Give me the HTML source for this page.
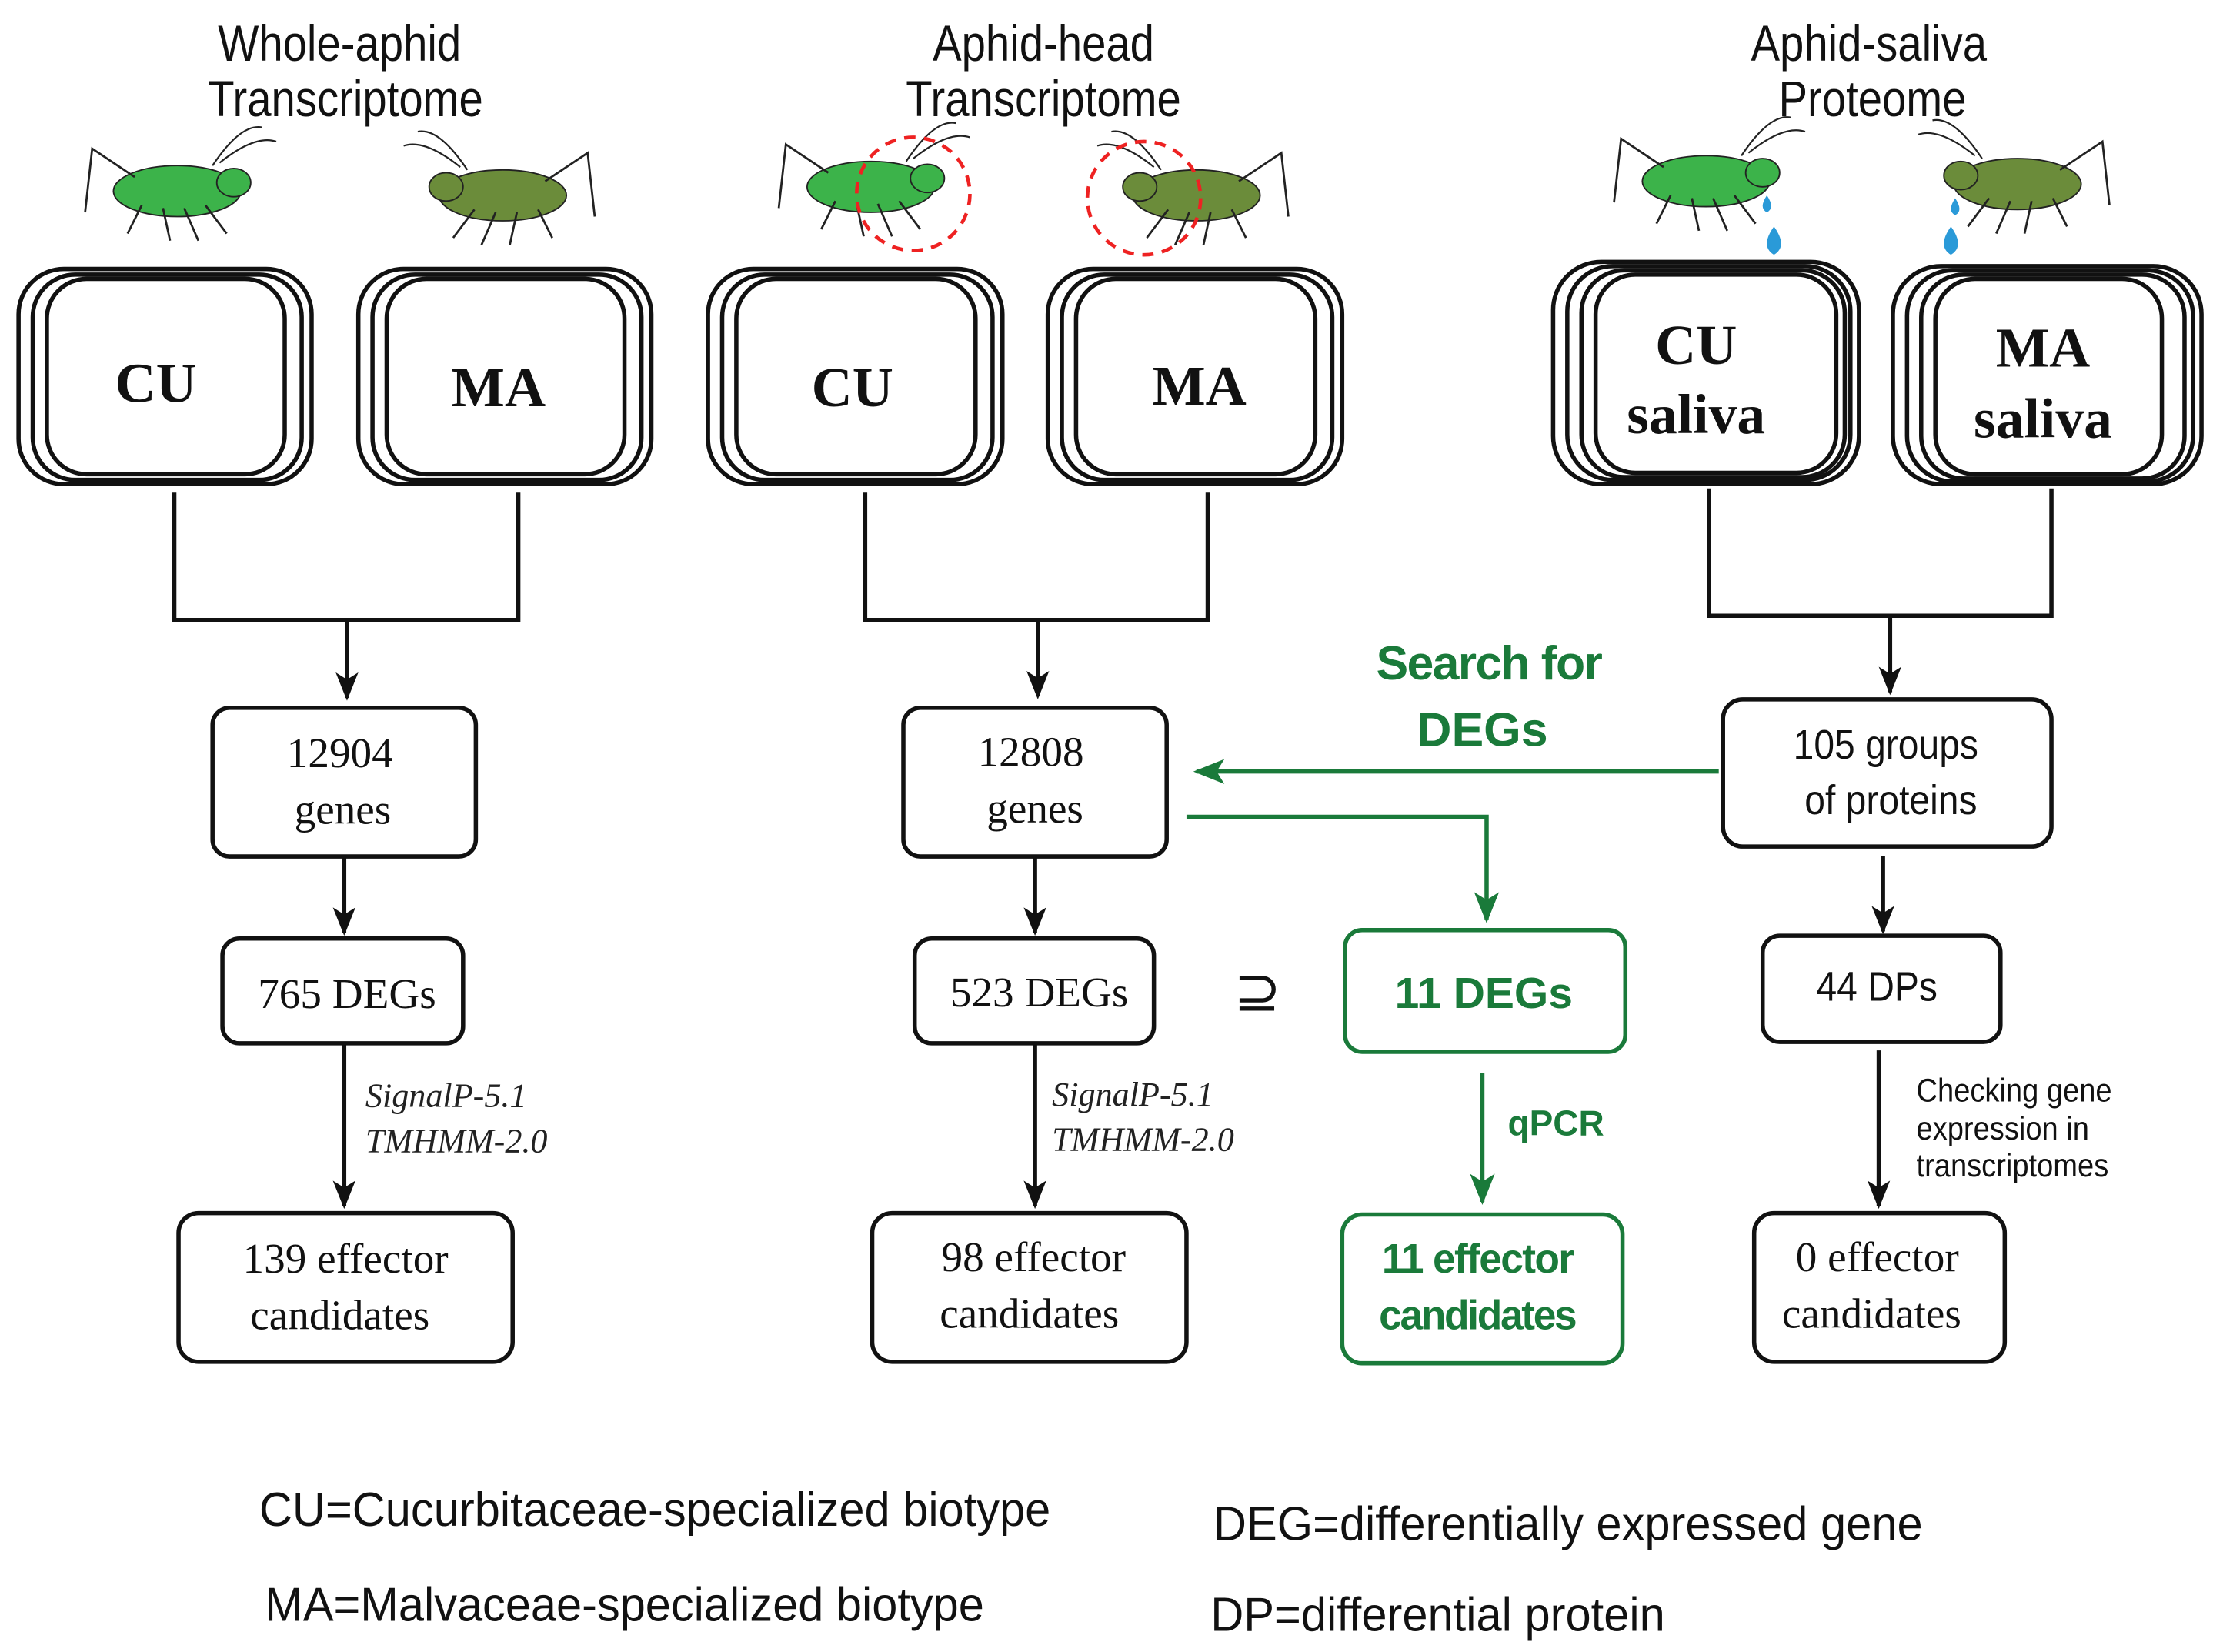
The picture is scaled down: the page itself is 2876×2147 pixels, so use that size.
<!DOCTYPE html>
<html><head><meta charset="utf-8"><style>html,body{margin:0;padding:0;background:#fff}svg{display:block}</style></head><body>
<svg width="2876" height="2147" viewBox="0 0 1563 1167" xmlns="http://www.w3.org/2000/svg">
<defs>
<marker id="ab" viewBox="0 0 20 20" refX="18" refY="10" markerWidth="20" markerHeight="20" markerUnits="userSpaceOnUse" orient="auto"><path d="M0,2 L20,10 L0,18 L5,10 Z" fill="#111"/></marker>
<marker id="ag" viewBox="0 0 20 20" refX="18" refY="10" markerWidth="22" markerHeight="22" markerUnits="userSpaceOnUse" orient="auto"><path d="M0,2 L20,10 L0,18 L5,10 Z" fill="#1a7a3a"/></marker>
<g id="aphid">
<path d="M-30,-20 Q-55,-40 -70,-35 M-25,-18 Q-45,-48 -60,-45" stroke="#222" stroke-width="1.2" fill="none"/>
<ellipse cx="0" cy="0" rx="45" ry="18"/>
<ellipse cx="-40" cy="-6" rx="12" ry="10"/>
<path d="M-20,10 L-35,30 M-5,12 L-15,35 M10,12 L5,35 M25,10 L35,30 M30,-10 L60,-30 L65,15" stroke="#222" stroke-width="1.5" fill="none"/>
</g>
</defs>
<g font-family="'Liberation Sans', sans-serif" fill="#111" text-anchor="middle">
<!-- titles -->
<g font-size="36" transform="scale(0.85,1)">
<text x="282" y="43">Whole-aphid</text><text x="287" y="82">Transcriptome</text>
<text x="867" y="43">Aphid-head</text><text x="867" y="82">Transcriptome</text>
<text x="1553" y="43">Aphid-saliva</text><text x="1556" y="82">Proteome</text>
</g>
</g>
<!-- aphids -->
<g stroke="#222" stroke-width="1">
<g transform="translate(125,135)" fill="#3cb34a"><use href="#aphid" transform="scale(-1,1)"/></g>
<g transform="translate(355,138)" fill="#6b8c3a"><use href="#aphid"/></g>
<g transform="translate(615,132)" fill="#3cb34a"><use href="#aphid" transform="scale(-1,1)"/></g>
<g transform="translate(845,138)" fill="#6b8c3a"><use href="#aphid"/></g>
<g transform="translate(1205,128)" fill="#3cb34a"><use href="#aphid" transform="scale(-1,1)"/></g>
<g transform="translate(1425,130)" fill="#6b8c3a"><use href="#aphid"/></g>
</g>
<circle cx="645" cy="137" r="40" fill="none" stroke="#e22" stroke-width="2.5" stroke-dasharray="8,6"/>
<circle cx="808" cy="140" r="40" fill="none" stroke="#e22" stroke-width="2.5" stroke-dasharray="8,6"/>
<g fill="#2a9ad8"><path d="M1248,138 q-6,9 0,12 q6,-3 0,-12z"/><path d="M1253,160 q-10,14 0,20 q10,-6 0,-20z"/><path d="M1381,140 q-6,9 0,12 q6,-3 0,-12z"/><path d="M1378,160 q-10,14 0,20 q10,-6 0,-20z"/></g>
<!-- stacked boxes -->
<g fill="#fff" stroke="#111" stroke-width="3">
<rect x="13" y="190" width="207" height="152" rx="32"/><rect x="23" y="194" width="190" height="145" rx="30"/><rect x="33" y="197" width="168" height="138" rx="28"/>
<rect x="253" y="190" width="207" height="152" rx="32"/><rect x="263" y="194" width="190" height="145" rx="30"/><rect x="273" y="197" width="168" height="138" rx="28"/>
<rect x="500" y="190" width="208" height="152" rx="32"/><rect x="510" y="194" width="191" height="145" rx="30"/><rect x="520" y="197" width="169" height="138" rx="28"/>
<rect x="740" y="190" width="208" height="152" rx="32"/><rect x="750" y="194" width="191" height="145" rx="30"/><rect x="760" y="197" width="169" height="138" rx="28"/>
<rect x="1097" y="185" width="216" height="157" rx="34"/><rect x="1107" y="188" width="200" height="151" rx="32"/><rect x="1117" y="191" width="186" height="146" rx="30"/><rect x="1127" y="194" width="170" height="140" rx="28"/>
<rect x="1337" y="188" width="218" height="154" rx="34"/><rect x="1347" y="191" width="202" height="149" rx="32"/><rect x="1357" y="194" width="186" height="144" rx="30"/><rect x="1367" y="197" width="160" height="138" rx="28"/>
</g>
<g font-family="'Liberation Serif', serif" font-weight="bold" font-size="40" text-anchor="middle" fill="#111">
<text x="110" y="284">CU</text><text x="352" y="287">MA</text><text x="602" y="287">CU</text><text x="847" y="286">MA</text>
<text x="1198" y="257">CU</text><text x="1198" y="306">saliva</text><text x="1443" y="259">MA</text><text x="1443" y="309">saliva</text>
</g>
<!-- connectors -->
<g stroke="#111" stroke-width="3" fill="none">
<path d="M123,348 V438 H366 V348"/><path d="M245,438 V493" marker-end="url(#ab)"/>
<path d="M611,348 V438 H853 V348"/><path d="M733,438 V492" marker-end="url(#ab)"/>
<path d="M1207,345 V435 H1449 V345"/><path d="M1335,435 V489" marker-end="url(#ab)"/>
<path d="M243,606 V659" marker-end="url(#ab)"/><path d="M243,738 V852" marker-end="url(#ab)"/>
<path d="M731,606 V659" marker-end="url(#ab)"/><path d="M731,738 V852" marker-end="url(#ab)"/>
<path d="M1330,605 V658" marker-end="url(#ab)"/><path d="M1327,742 V852" marker-end="url(#ab)"/>
</g>
<g stroke="#1a7a3a" stroke-width="3" fill="none">
<path d="M1214,545 H845" marker-end="url(#ag)"/>
<path d="M838,577 H1050 V650" marker-end="url(#ag)"/>
<path d="M1047,758 V849" marker-end="url(#ag)"/>
</g>
<!-- boxes -->
<g fill="#fff" stroke="#111" stroke-width="3">
<rect x="150" y="500" width="186" height="105" rx="12"/><rect x="157" y="663" width="170" height="74" rx="12"/><rect x="126" y="857" width="236" height="105" rx="14"/>
<rect x="638" y="500" width="186" height="105" rx="12"/><rect x="646" y="663" width="169" height="74" rx="12"/><rect x="616" y="857" width="222" height="105" rx="14"/>
<rect x="1217" y="494" width="232" height="104" rx="14"/><rect x="1245" y="661" width="168" height="75" rx="12"/><rect x="1239" y="857" width="177" height="105" rx="14"/>
</g>
<g fill="#fff" stroke="#1a7a3a" stroke-width="3">
<rect x="950" y="657" width="198" height="86" rx="12"/><rect x="948" y="858" width="198" height="105" rx="14"/>
</g>
<g font-family="'Liberation Serif', serif" font-size="30" text-anchor="middle" fill="#111">
<text x="240" y="542">12904</text><text x="242" y="582">genes</text><text x="245" y="712">765 DEGs</text>
<text x="244" y="899">139 effector</text><text x="240" y="939">candidates</text>
<text x="728" y="541">12808</text><text x="731" y="581">genes</text><text x="734" y="711">523 DEGs</text>
<text x="730" y="898">98 effector</text><text x="727" y="938">candidates</text>
<text x="1326" y="898">0 effector</text><text x="1322" y="938">candidates</text>
<text x="888" y="714" font-size="40">⊇</text>
</g>
<g font-family="'Liberation Serif', serif" font-style="italic" font-size="24" fill="#222">
<text x="258" y="782">SignalP-5.1</text><text x="258" y="814">TMHMM-2.0</text>
<text x="743" y="781">SignalP-5.1</text><text x="743" y="813">TMHMM-2.0</text>
</g>
<g font-family="'Liberation Sans', sans-serif" fill="#111">
<g transform="scale(0.9,1)" font-size="29" text-anchor="middle">
<text x="1480" y="536">105 groups</text><text x="1484" y="575">of proteins</text><text x="1473" y="707">44 DPs</text>
</g>
<g transform="scale(0.9,1)" font-size="23"><text x="1504" y="778">Checking gene</text><text x="1504" y="805">expression in</text><text x="1504" y="831">transcriptomes</text></g>
</g>
<g font-family="'Liberation Sans', sans-serif" font-weight="bold" fill="#1a7a3a" text-anchor="middle">
<text x="1052" y="480" font-size="34" textLength="160">Search for</text><text x="1047" y="527" font-size="34">DEGs</text>
<text x="1048" y="712" font-size="31">11 DEGs</text>
<text x="1044" y="899" font-size="29" textLength="136">11 effector</text><text x="1044" y="939" font-size="29" textLength="140">candidates</text>
<text x="1099" y="802" font-size="25">qPCR</text>
</g>
<g font-family="'Liberation Sans', sans-serif" font-size="34" fill="#111">
<text x="183" y="1078" textLength="559" lengthAdjust="spacingAndGlyphs">CU=Cucurbitaceae-specialized biotype</text>
<text x="187" y="1145" textLength="508" lengthAdjust="spacingAndGlyphs">MA=Malvaceae-specialized biotype</text>
<text x="857" y="1088" textLength="501" lengthAdjust="spacingAndGlyphs">DEG=differentially expressed gene</text>
<text x="855" y="1152" textLength="321" lengthAdjust="spacingAndGlyphs">DP=differential protein</text>
</g>
</svg>
</body></html>
